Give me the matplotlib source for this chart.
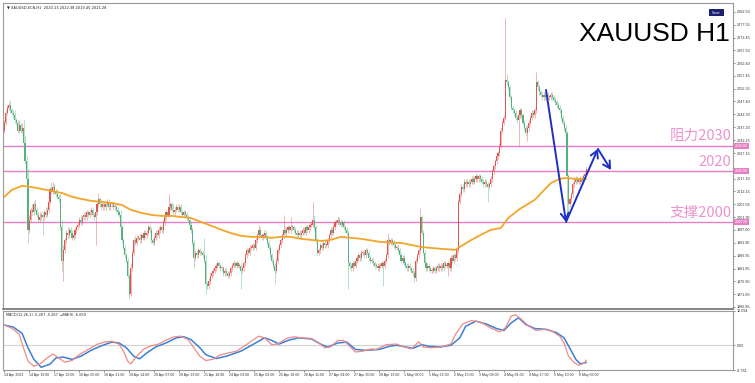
import matplotlib
matplotlib.use('Agg')
import matplotlib.pyplot as plt
import matplotlib.transforms as mtransforms
from matplotlib.patches import Rectangle
import numpy as np

# ---------------- data ----------------
first_open = 2036
closes = [
    2039,2043,2045,2046,2044,2043,2042,2040,2039,2036,2038,2036,2037,2031,2024,2017,1997,2001,2005,2004,
    2007,2005,2003,2001,2002,2003,2002,2004,2003,2005,2008,2013,2012,2014,2012,2011,2010,2009,1998,1985,
    1989,1993,1996,1995,1997,1996,1994,1995,1997,1998,1999,2001,2000,2002,2003,2002,2004,2003,2004,2005,
    2003,2002,2004,2007,2009,2007,2006,2007,2006,2007,2008,2006,2007,2007,2006,2006,2005,2004,2003,1998,
    1993,1990,1987,1985,1979,1972,1982,1988,1993,1992,1994,1994,1993,1995,1994,1996,1995,1996,1998,1997,
    1993,1992,1994,1996,1995,1997,1998,1997,2000,2002,2004,2003,2006,2007,2005,2004,2005,2006,2005,2006,
    2004,2003,2004,2003,2002,2001,1999,1997,1992,1986,1988,1987,1989,1988,1988,1987,1985,1976,1975,1977,
    1979,1980,1981,1982,1983,1984,1983,1982,1982,1980,1981,1980,1979,1980,1982,1983,1984,1983,1984,1983,
    1983,1981,1982,1984,1987,1989,1988,1990,1990,1991,1990,1993,1995,1997,1995,1994,1995,1996,1994,1992,
    1990,1987,1985,1983,1981,1985,1989,1991,1993,1995,1997,1996,1997,1998,1997,1998,1998,1997,1996,1995,
    1996,1995,1996,1997,1996,1998,1997,1998,1999,1999,2001,1998,1993,1988,1989,1991,1990,1992,1991,1991,
    1993,1995,1997,1996,1998,2000,2000,2001,2000,1999,2000,1998,1997,1996,1984,1983,1982,1984,1983,1985,
    1986,1987,1986,1988,1988,1987,1989,1988,1986,1985,1985,1984,1983,1983,1982,1983,1983,1984,1983,1985,
    1987,1993,1992,1993,1992,1991,1990,1990,1989,1987,1985,1986,1984,1983,1982,1983,1982,1981,1980,1978,
    1985,1987,1989,2002,1996,1988,1984,1982,1983,1982,1981,1981,1982,1981,1982,1983,1982,1983,1982,1984,
    1983,1983,1984,1982,1986,1985,1987,1986,1989,2008,2011,2014,2013,2016,2015,2016,2015,2016,2017,2016,
    2017,2018,2017,2018,2017,2016,2015,2016,2015,2014,2015,2017,2020,2022,2024,2026,2027,2030,2036,2039,
    2041,2056,2055,2053,2049,2045,2044,2043,2041,2040,2042,2044,2042,2039,2037,2035,2037,2039,2041,2043,
    2042,2044,2055,2053,2051,2050,2049,2050,2049,2050,2049,2049,2050,2049,2048,2047,2046,2045,2044,2041,
    2039,2037,2035,2018,2007,2009,2011,2015,2016,2017,2016,2016,2017,2016,2018,2019,2021,
]
upper_wick = [
    1,1,1,1,2,1,1,2,1,1,2,1,2,3,3,2,4,2,1,2,
    1,2,1,1,2,1,1,1,2,1,1,1,3,2,1,1,2,1,2,3,
    2,1,1,2,1,1,1,2,1,1,1,1,2,1,1,1,1,1,1,1,
    1,1,1,1,2.5,1,2,1,1,1,1,1,1,1,1,1,1,1,1,2,
    1,1,1,1,1,1,2,1,1,2,1,1,2,1,1,1,1,1,1,1,
    1,1,1,1,1,1,1,1,1,1,1,2,5,1,1,2,1,1,1,1,
    1,1,1,1,1,1,1,1,1,1,1,1,1,1,1,1,7,2,1,1,
    1,1,1,1,1,1,1,1,1,1,1,1,1,1,1,1,1,1,1,1,
    1,1,1,1,1,1,1,1,1,1,1,1,1,2,1,1,1,1,1,1,
    1,1,1,1,1,1,1,1,1,1,6,1,1,1,1,4,1,1,1,1,
    1,1,1,1,1,1,1,1,1,1,7,2,1,1,1,1,1,1,1,1,
    1,1,1,1,1,1,1,1,1,1,1,1,1,1,1,1,1,1,1,1,
    1,1,1,1,1,1,1,1,1,1,1,1,1,1,1,1,1,1,1,1,
    1,3,1,1,1,1,1,1,1,1,1,1,1,1,1,1,1,1,1,1,
    1,1,1,3.5,1,1,1,1,1,1,1,1,1,1,1,1,1,1,1,1,
    1,1,1,1,1,1,1,1,1,1,1,1,1,1,1,1,1,1,1,1,
    1,1,1,1,1,1,1,1,1,1,1,1,1,1,1,1,1,1,1,1,
    1,24,2,1,1,1,1,1,1,1,1,1,1,1,1,1,1,1,1,1,
    1,1,4,1,1,1,1,1,1,1,1,1,1,1,1,1,1,1,1,1,
    1,1,1,1,1,1,1,1,1,1,1,1,1,1,1,1,1,
]
lower_wick = [
    1,1,1,1,1,1,1,1,1,1,1,1,1,1,1,1,5,1,1,1,
    1,1,1,1,1,1,7,1,1,1,1,1,1,1,1,1,1,1,1,4,
    8,1,1,1,1,1,1,1,1,1,1,1,1,1,1,1,1,1,1,1,
    1,1,11,1,1,1,1,1,1,1,1,1,1,1,1,1,1,1,1,1,
    1,1,1,1,1,2,1,1,1,1,1,1,1,1,1,1,1,1,1,1,
    1,1,1,1,1,1,1,1,1,1,1,1,1,1,1,1,1,1,1,1,
    1,1,1,1,1,1,1,1,1,4,1,1,1,1,1,1,1,4,1,1,
    1,1,1,1,1,1,1,1,1,1,1,1,1,1,1,1,1,1,1,1,
    1,7,1,1,1,1,1,1,1,1,1,1,1,1,1,1,1,1,1,1,
    1,1,1,1,5,1,1,1,1,1,1,1,1,1,1,1,1,1,1,1,
    1,1,1,1,1,1,1,1,1,1,1,1,1,1,1,1,1,1,1,1,
    1,1,1,1,1,1,1,1,1,1,1,1,1,1,10,1,1,1,1,1,
    1,1,1,1,1,1,1,1,1,1,1,1,1,1,1,1,1,1,8,1,
    1,1,1,1,1,1,1,1,1,1,1,1,1,1,1,1,1,1,1,1.5,
    1,1,1,1,1,1,1,1,1,1,1,1,1,1,1,1,1,1,1,1,
    1,1,4,1,1,1,1,1,1,1,1,1,1,1,1,1,1,1,1,1,
    1,1,1,1,1,1,1,1,1,6,1,1,1,1,1,1,1,1,1,1,
    1,1,1,1,1,1,1,1,1,1,10,1,1,1,1,1,3,1,1,1,
    1,1,1,1,1,1,1,1,1,1,1,1,1,1,1,1,1,1,1,1,
    1,1,1,16,4,1,1,1,1,1,1,1,1,1,1,1,1,
]

# moving average (orange), sampled along the bar axis
ma_idx = [0,5,12,18,25,32,39,46,52,59,66,73,80,86,93,100,107,114,120,127,134,141,148,154,161,168,
          175,182,188,195,202,209,216,222,229,236,243,256,270,284,297,307,311,318,324,331,338,343,
          350,361,372,378,382,389,396]
ma_val = [2010.0,2012.7,2014.3,2013.9,2013.1,2012.3,2011.5,2010.0,2009.2,2008.4,2008.0,2007.6,2006.8,
          2004.9,2003.7,2002.9,2002.5,2002.5,2002.1,2001.7,2000.1,1998.6,1997.0,1995.8,1994.7,1994.3,
          1994.3,1993.9,1994.3,1994.3,1993.5,1993.1,1992.7,1993.1,1994.3,1993.9,1993.5,1992.3,1991.9,
          1990.3,1989.6,1989.2,1990.7,1993.1,1995.0,1997.0,1997.8,2001.7,2004.9,2008.8,2015.4,2017.0,
          2017.4,2017.0,2017.0]

# MACD(12,26,1) main line (red) and MA(9) signal (blue)
macd_idx = [0,5,10,13,16,20,24,29,33,37,41,46,51,57,63,68,73,78,81,84,86,90,95,100,105,110,115,120,
            125,129,133,137,142,146,151,158,163,168,173,177,182,186,192,197,202,209,214,218,222,227,
            231,235,239,244,250,253,260,267,271,277,282,285,290,297,304,307,312,318,324,331,337,341,
            345,348,352,357,362,367,372,378,381,384,388,391,395,396]
macd_val = [7.1,6.0,3.9,-1.0,-5.6,-7.4,-6.7,-4.5,-3.1,-4.5,-6.0,-5.4,-3.3,-1.5,0.3,1.1,1.4,0.4,-2.1,
            -5.7,-6.6,-3.9,-1.3,-0.2,0.4,1.8,2.9,3.2,2.0,-0.9,-3.9,-5.4,-5.0,-3.6,-2.9,-2.1,-0.4,1.4,
            3.2,2.6,0.2,0.4,2.4,3.0,2.6,2.4,0.8,-0.9,-0.6,1.7,1.7,-0.4,-2.4,-2.1,-1.3,-1.5,0.2,0.4,
            -0.4,-1.3,1.2,-0.6,-0.9,-0.6,0.4,3.8,7.5,8.7,8.2,6.1,4.7,6.1,10.3,10.8,9.1,6.7,5.2,5.6,
            5.2,3.2,0.8,-3.9,-6.2,-7.1,-6.2,-5.3]
sig_idx = [0,6,12,16,20,25,31,35,40,46,52,59,66,73,78,83,88,92,97,103,110,117,122,127,133,137,144,
           151,161,171,177,182,187,193,200,209,216,220,227,233,239,246,255,262,267,273,278,284,289,
           297,304,310,314,321,328,335,340,345,350,355,361,369,376,381,386,389,392,396]
sig_val = [7.1,6.4,4.2,-0.9,-5.0,-7.8,-6.7,-4.5,-4.2,-5.0,-3.9,-1.8,-0.2,1.1,0.8,-0.9,-3.9,-4.8,-2.7,
           -0.6,0.8,2.6,3.0,2.0,-0.9,-3.3,-4.7,-3.9,-2.1,0.8,2.6,1.7,0.4,1.7,2.6,2.2,0.2,-0.6,0.8,1.1,
           -1.5,-1.8,-1.5,-0.4,0.0,-0.6,-1.1,0.2,-0.4,-0.6,0.0,2.6,6.7,8.5,7.5,5.9,5.2,7.9,9.7,7.3,
           5.9,5.6,4.4,2.6,-2.1,-5.0,-6.6,-6.1]

level_prices = [2030, 2020, 2000]
level_texts = ['阻力2030', '2020', '支撑2000']

arrow_idx = [368.7, 382.3, 404.0, 413.0]
arrow_price = [2051.9, 2000.1, 2028.8, 2020.5]

price_ticks = [2082.50, 2077.55, 2072.45, 2067.50, 2062.40, 2057.45, 2052.35, 2047.40, 2042.30,
               2037.20, 2032.25, 2027.15, 2017.10, 2012.15, 2007.05, 2001.95, 1997.00,
               1991.90, 1986.95, 1981.85, 1976.90, 1971.80, 1966.85]
macd_ticks = [12.094, 0.0, -8.761]
macd_tick_labels = ['12.094', '0.00', '-8.761']
date_labels = ['14 Apr 2023', '14 Apr 19:00', '17 Apr 12:00', '18 Apr 05:00', '18 Apr 21:00',
               '19 Apr 14:00', '20 Apr 07:00', '20 Apr 23:00', '21 Apr 16:00', '24 Apr 09:00',
               '25 Apr 02:00', '25 Apr 18:00', '26 Apr 11:00', '27 Apr 04:00', '27 Apr 20:00',
               '28 Apr 13:00', '1 May 06:00', '1 May 22:00', '2 May 15:00', '3 May 08:00',
               '4 May 01:00', '4 May 17:00', '5 May 10:00', '8 May 03:00']
date_step = 17

header_text = '\u25bc XAUUSD-ECN,H1  2020.13 2022.38 2019.45 2021.28'
macd_legend = 'MACD(12,26,1) -5.267 -5.267  \u21d2MA(9) -6.059'

# ---------------- style ----------------
RED = '#e0554f'
GREEN = '#55b27e'
PINK = '#e77dc4'
PINK_TXT = '#ee93cf'
ORANGE = '#f2a52a'
BLUE_ARROW = '#1f30c4'
FRAME = '#9a9a9a'

plt.rcParams['font.family'] = ['Liberation Sans', 'DejaVu Sans']

W, H = 755, 383
fig = plt.figure(figsize=(W / 100, H / 100), dpi=100)
fig.patch.set_facecolor('white')

def rect(l, t, r, b):
    return [l / W, 1 - b / H, (r - l) / W, (b - t) / H]

ax = fig.add_axes(rect(3, 3, 733, 309))
axm = fig.add_axes(rect(3, 311, 733, 370))

n = len(closes)
idx = np.arange(n)
c = np.array(closes, dtype=float)
o = np.concatenate([[first_open], c[:-1]])
hi = np.maximum(o, c) + np.array(upper_wick, dtype=float)
lo = np.minimum(o, c) - np.array(lower_wick, dtype=float)
up = c >= o
cols = np.where(up, RED, GREEN)

ax.vlines(idx, lo, hi, colors=cols, lw=0.55, alpha=0.55, zorder=2)
ax.bar(idx, np.maximum(np.abs(c - o), 0.4), bottom=np.minimum(o, c), width=0.75,
       color=cols, lw=0, zorder=3)

ax.plot(ma_idx, ma_val, color=ORANGE, lw=1.3, zorder=4, solid_capstyle='round')

xmin, xmax = -1, 496
ax.set_xlim(xmin, xmax)
ax.set_ylim(1966.0, 2086.0)

for p, t in zip(level_prices, level_texts):
    ax.axhline(p, color=PINK, lw=1.0, zorder=1)
    tr = mtransforms.blended_transform_factory(ax.transAxes, ax.transData)
    ax.text(0.998, p + 1.0, t, transform=tr, ha='right', va='bottom', fontsize=10.5,
            color=PINK_TXT, family=['Noto Sans CJK SC', 'DejaVu Sans'], zorder=5)
    ax.text(1.003, p, f'{p:.2f}', transform=tr, ha='left', va='center', fontsize=2.6,
            color='white', zorder=6, clip_on=False,
            bbox=dict(boxstyle='square,pad=0.25', fc=PINK, ec='none'))

# analyst arrows
for k in range(len(arrow_idx) - 1):
    ax.annotate('', xy=(arrow_idx[k + 1], arrow_price[k + 1]),
                xytext=(arrow_idx[k], arrow_price[k]),
                arrowprops=dict(arrowstyle='->,head_length=0.5,head_width=0.28',
                                color=BLUE_ARROW, lw=1.4, shrinkA=0, shrinkB=0),
                zorder=7)

ax.yaxis.tick_right()
ax.set_yticks(price_ticks)
ax.set_yticklabels([f'{v:.2f}' for v in price_ticks])
ax.tick_params(axis='y', labelsize=2.7, length=1.5, width=0.4, pad=1.2, colors='#333333')
ax.set_xticks([])
for s in ax.spines.values():
    s.set_color(FRAME)
    s.set_linewidth(0.8)
ax.spines['bottom'].set_color('#6f6f6f')
ax.spines['bottom'].set_linewidth(1.2)

ax.text(0.005, 0.993, header_text, transform=ax.transAxes, ha='left', va='top', fontsize=2.6,
        color='#222222', family=['DejaVu Sans'])
ax.text(0.996, 0.937, 'XAUUSD H1', transform=ax.transAxes, ha='right', va='top', fontsize=19,
        color='black')
ax.add_patch(Rectangle((0.967, 0.957), 0.021, 0.022, transform=ax.transAxes,
                       fc='#1a1f6e', ec='none', zorder=8))
ax.text(0.9775, 0.968, 'Show', transform=ax.transAxes, ha='center', va='center', fontsize=2.4,
        color='white', zorder=9)

# MACD panel
axm.axhline(0, color='#d2d2d2', lw=0.8, zorder=1)
axm.plot(macd_idx, macd_val, color='#f08a86', lw=0.9, zorder=3)
axm.plot(sig_idx, sig_val, color='#3b7fd6', lw=1.1, zorder=2)
axm.set_xlim(xmin, xmax)
axm.set_ylim(-8.761, 12.094)
axm.yaxis.tick_right()
axm.set_yticks(macd_ticks)
axm.set_yticklabels(macd_tick_labels)
axm.tick_params(axis='y', labelsize=2.7, length=1.5, width=0.4, pad=1.2, colors='#333333')
tick_pos = [k * date_step for k in range(len(date_labels))]
axm.set_xticks(tick_pos)
axm.set_xticklabels(date_labels)
axm.tick_params(axis='x', labelsize=2.5, length=1.5, width=0.4, pad=0.8, colors='#333333')
for lab in axm.get_xticklabels():
    lab.set_horizontalalignment('left')
for s in axm.spines.values():
    s.set_color(FRAME)
    s.set_linewidth(0.8)
axm.text(0.004, 0.965, macd_legend, transform=axm.transAxes, ha='left', va='top', fontsize=2.5,
         color='#222222', family=['DejaVu Sans'])

fig.savefig('out.png', dpi=100, facecolor='white')
